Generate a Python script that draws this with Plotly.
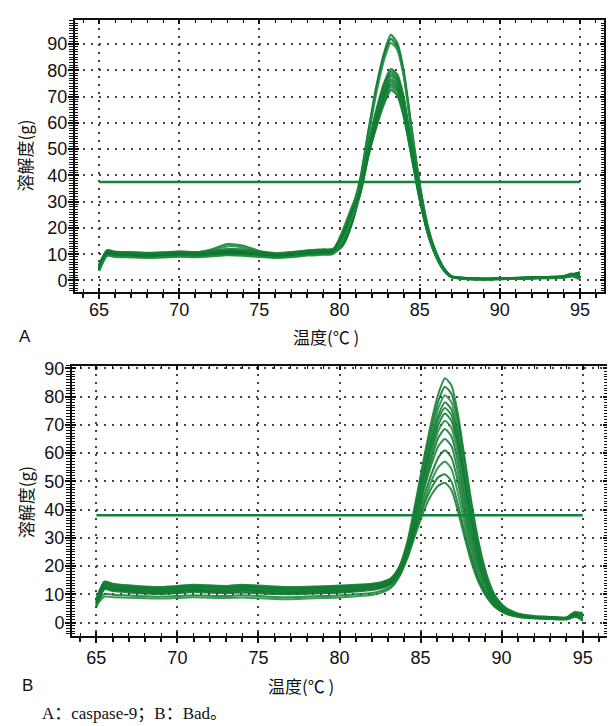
import plotly.graph_objects as go

# ---------------- data ----------------
TEMP_A = [65, 65.5, 66, 67, 68, 69, 70, 71, 72, 73, 74, 75, 76, 77, 78, 79, 79.6, 80.2, 80.8, 81.3,
          81.8, 82.3, 82.8, 83.2, 83.6, 84.0, 84.5, 85.0, 85.5, 86.0, 86.5, 87.0, 88, 89, 90, 91,
          92, 93, 94, 94.5, 95]

CURVES_A = [
    [5.2, 11.2, 10.6, 10.4, 10.0, 10.3, 10.8, 10.5, 11.8, 13.8, 13.2, 11.2, 9.8, 10.4, 11.2, 11.5, 11.8, 16, 27, 39, 57, 74, 87, 93.5, 90.5, 80, 58, 37, 20.5, 10.5, 4.5, 1.6, 0.9, 0.6, 0.8, 0.9, 1.1, 1.3, 1.6, 2.4, 2.8],
    [4.6, 10.8, 10.2, 10.0, 9.6, 9.9, 10.2, 10.0, 10.5, 11.0, 10.8, 10.2, 9.4, 9.9, 10.6, 11.0, 11.2, 14.5, 25, 38, 56, 73, 86, 92, 89, 79, 57, 36, 20, 10, 4.2, 1.4, 0.7, 0.5, 0.6, 0.8, 1.0, 1.1, 1.4, 2.0, 1.2],
    [5.8, 11.5, 10.9, 10.6, 10.3, 10.6, 11.0, 10.7, 11.5, 13.0, 12.6, 10.9, 10.0, 10.6, 11.4, 11.8, 12.0, 18, 28, 37.5, 55, 71.5, 84.5, 90.5, 88, 78, 56.5, 36, 21, 11, 4.8, 1.5, 0.8, 0.6, 0.7, 0.9, 1.2, 1.3, 1.7, 2.6, 0.6],
    [4.2, 10.2, 9.8, 9.6, 9.3, 9.5, 9.9, 9.6, 10.0, 10.4, 10.2, 9.7, 9.2, 9.6, 10.2, 10.6, 10.9, 14, 23, 35.5, 51.5, 65, 75.5, 80.5, 78.5, 70, 51.5, 34, 19.5, 10, 4.2, 1.5, 0.7, 0.5, 0.6, 0.7, 0.9, 1.0, 1.3, 1.8, 2.2],
    [5.0, 10.6, 10.3, 10.2, 10.0, 10.2, 10.5, 10.2, 10.6, 11.2, 11.0, 10.4, 9.8, 10.2, 10.8, 11.1, 11.3, 17, 26, 35.5, 51, 64, 74.5, 79.5, 77.5, 69, 51, 33.5, 19.8, 10.5, 4.5, 1.4, 0.8, 0.6, 0.7, 0.8, 1.0, 1.1, 1.4, 2.2, 3.0],
    [3.8, 9.6, 9.2, 9.0, 8.8, 9.0, 9.3, 9.0, 9.4, 9.8, 9.6, 9.2, 8.8, 9.1, 9.7, 10.0, 10.3, 13.2, 22, 34.5, 50, 63, 73.5, 78.5, 76.5, 68, 50, 33, 18.5, 9.5, 4.0, 1.4, 0.6, 0.4, 0.5, 0.6, 0.8, 0.9, 1.2, 1.6, 0.8],
    [5.5, 11.0, 10.6, 10.5, 10.3, 10.4, 10.7, 10.4, 10.9, 11.6, 11.4, 10.6, 10.0, 10.4, 11.0, 11.4, 11.6, 19, 28.5, 35, 50, 62.5, 72.5, 77.5, 75.5, 67, 49.5, 32.5, 19.5, 11, 4.8, 1.4, 0.8, 0.6, 0.8, 0.9, 1.1, 1.2, 1.5, 2.5, 1.8],
    [4.4, 10.0, 9.6, 9.5, 9.2, 9.4, 9.7, 9.5, 9.8, 10.2, 10.0, 9.5, 9.0, 9.4, 10.0, 10.3, 10.5, 14.5, 23.5, 34, 49, 61.5, 71.5, 76.5, 74.5, 66, 49, 32, 18.5, 9.8, 4.2, 1.3, 0.6, 0.5, 0.6, 0.7, 0.9, 1.0, 1.3, 1.9, 2.6],
    [6.0, 11.4, 10.9, 10.8, 10.5, 10.7, 11.0, 10.8, 11.2, 11.9, 11.8, 11.0, 10.4, 10.8, 11.4, 11.7, 11.9, 16.5, 26, 34.5, 49, 61, 70.5, 75.5, 73.5, 65, 48.5, 31.8, 19, 10.5, 4.5, 1.4, 0.9, 0.7, 0.8, 1.0, 1.2, 1.3, 1.6, 2.3, 1.0],
    [4.8, 10.4, 10.0, 9.9, 9.6, 9.8, 10.1, 9.9, 10.3, 10.8, 10.6, 10.0, 9.5, 9.8, 10.4, 10.7, 10.9, 13.8, 22.5, 33.5, 48, 60, 69.5, 74.5, 72.5, 64, 48, 31.5, 18, 9.5, 4.0, 1.3, 0.7, 0.5, 0.6, 0.8, 1.0, 1.1, 1.4, 2.0, 3.2],
    [3.6, 9.4, 9.0, 8.8, 8.6, 8.8, 9.1, 8.9, 9.2, 9.6, 9.4, 9.0, 8.6, 8.9, 9.5, 9.8, 10.1, 15, 24, 33, 47.5, 59, 68.5, 73.5, 71.5, 63.5, 47.5, 31, 18, 9.5, 4.0, 1.2, 0.5, 0.4, 0.5, 0.6, 0.8, 0.9, 1.1, 1.5, 0.3],
    [5.3, 10.9, 10.4, 10.3, 10.0, 10.2, 10.5, 10.3, 10.7, 11.3, 11.1, 10.5, 9.9, 10.3, 10.9, 11.2, 11.4, 18, 27, 33.5, 47.5, 58.5, 67.5, 72.5, 70.5, 62.5, 47, 30.8, 18.8, 10.8, 4.6, 1.3, 0.8, 0.6, 0.7, 0.9, 1.1, 1.2, 1.5, 2.2, 1.6],
]

TEMP_B = [65, 65.5, 66, 67, 68, 69, 70, 71, 72, 73, 74, 75, 76, 77, 78, 79, 80, 81, 82, 82.6, 83.2,
          83.7, 84.2, 84.7, 85.2, 85.7, 86.1, 86.5, 86.9, 87.3, 87.7, 88.1, 88.6, 89.1, 89.6, 90.2,
          91, 92, 93, 94, 94.5, 95]

CURVES_B = [
    [7.5, 14.0, 13.2, 12.6, 12.2, 12.0, 12.4, 12.8, 12.6, 12.4, 12.8, 12.5, 12.2, 12.0, 12.2, 12.4, 12.6, 13.0, 13.4, 14.0, 15.6, 20, 29, 43, 58, 72, 81, 86.5, 84, 74, 59, 44, 28, 16.5, 9.5, 5.5, 3.2, 2.3, 2.0, 1.8, 3.6, 2.5],
    [6.8, 13.2, 12.6, 12.0, 11.6, 11.4, 11.8, 12.2, 12.0, 11.8, 12.2, 11.9, 11.6, 11.4, 11.6, 11.8, 12.0, 12.4, 12.9, 13.5, 15.2, 19.5, 28, 41.5, 56, 69.5, 78.5, 83.5, 81, 71.5, 57, 42.5, 27, 16, 9.2, 5.2, 3.0, 2.1, 1.9, 1.7, 3.2, 1.2],
    [7.2, 13.6, 12.9, 12.3, 11.9, 11.7, 12.1, 12.5, 12.3, 12.1, 12.5, 12.2, 11.9, 11.7, 11.9, 12.1, 12.3, 12.7, 13.1, 13.8, 15.4, 19.6, 27.5, 40.5, 54.5, 67.5, 76, 80.5, 78, 69, 55, 41, 26, 15.5, 9.0, 5.2, 3.1, 2.2, 2.0, 1.8, 3.8, 3.2],
    [6.2, 12.6, 12.0, 11.5, 11.1, 10.9, 11.2, 11.6, 11.4, 11.2, 11.6, 11.3, 11.0, 10.8, 11.0, 11.2, 11.4, 11.8, 12.3, 12.9, 14.6, 18.8, 27, 39.5, 53, 65.5, 73.5, 78, 75.5, 66.5, 52.5, 39, 24.5, 14.5, 8.4, 4.8, 2.8, 2.0, 1.8, 1.6, 2.8, 0.8],
    [8.0, 14.4, 13.6, 13.0, 12.6, 12.4, 12.8, 13.2, 13.0, 12.8, 13.2, 12.9, 12.6, 12.4, 12.5, 12.7, 12.9, 13.2, 13.6, 14.2, 15.8, 19.6, 27, 39, 52, 64, 72, 76, 73.5, 64.5, 51, 37.5, 23.5, 14, 8.2, 4.8, 2.9, 2.1, 1.9, 1.7, 3.4, 2.0],
    [5.8, 12.2, 11.6, 11.1, 10.7, 10.5, 10.8, 11.2, 11.0, 10.8, 11.1, 10.8, 10.5, 10.4, 10.6, 10.8, 11.0, 11.4, 11.9, 12.6, 14.2, 18.2, 26, 38, 50.5, 62, 70, 74, 71.5, 62.5, 49, 36, 22.5, 13.5, 7.8, 4.5, 2.7, 1.9, 1.7, 1.5, 2.6, 1.0],
    [7.0, 13.4, 12.8, 12.2, 11.8, 11.6, 12.0, 12.4, 12.2, 12.0, 12.4, 12.1, 11.8, 11.6, 11.8, 12.0, 12.2, 12.6, 13.0, 13.6, 15.0, 18.8, 26, 37.5, 49.5, 60.5, 68, 71.5, 69, 60, 47, 34.5, 21.5, 13, 7.6, 4.5, 2.8, 2.0, 1.8, 1.6, 3.0, 2.4],
    [6.5, 12.8, 12.2, 11.7, 11.3, 11.1, 11.4, 11.8, 11.6, 11.4, 11.8, 11.5, 11.2, 11.0, 11.2, 11.4, 11.6, 12.0, 12.5, 13.1, 14.6, 18.4, 25.5, 36.5, 48, 58.5, 65.5, 68.5, 66, 57, 44.5, 32.5, 20.5, 12.5, 7.3, 4.3, 2.7, 1.9, 1.7, 1.5, 2.9, 1.6],
    [8.5, 14.5, 13.8, 13.2, 12.8, 12.6, 13.0, 13.4, 13.2, 13.0, 13.4, 13.1, 12.8, 12.6, 12.7, 12.9, 13.1, 13.4, 13.8, 14.3, 15.8, 19.2, 26, 36.5, 47, 56.5, 62.5, 65, 62.5, 53.5, 41.5, 30, 19, 11.8, 7.0, 4.2, 2.7, 2.0, 1.8, 1.6, 3.3, 2.8],
    [5.5, 11.8, 11.2, 10.7, 10.3, 10.1, 10.4, 10.8, 10.6, 10.4, 10.7, 10.4, 10.1, 10.0, 10.2, 10.4, 10.6, 11.0, 11.5, 12.2, 13.8, 17.6, 24.5, 34.5, 44.5, 53, 58.5, 61, 58.5, 50, 38.5, 27.5, 17.2, 10.6, 6.3, 3.8, 2.4, 1.7, 1.5, 1.3, 2.4, 0.6],
    [6.0, 9.2, 9.0, 8.8, 8.6, 8.5, 8.7, 9.0, 8.8, 8.7, 8.9, 8.6, 8.4, 8.3, 8.5, 8.7, 8.9, 9.3, 9.8, 10.6, 12.4, 16.4, 23.5, 33, 42.5, 50.5, 55, 57, 54.5, 46, 35.5, 25, 15.5, 9.5, 5.6, 3.4, 2.1, 1.5, 1.3, 1.1, 2.0, 1.3],
    [7.4, 13.8, 13.1, 12.5, 12.1, 11.9, 12.3, 12.7, 12.5, 12.3, 12.7, 12.4, 12.1, 11.9, 12.0, 12.2, 12.4, 12.8, 13.2, 13.8, 15.2, 18.6, 24.5, 33, 41.5, 48, 51.5, 52.5, 50, 42, 32.5, 23.5, 15, 9.5, 5.8, 3.6, 2.3, 1.7, 1.5, 1.4, 2.6, 3.6],
    [6.6, 10.2, 9.9, 9.6, 9.3, 9.2, 9.4, 9.7, 9.5, 9.4, 9.7, 9.4, 9.1, 9.0, 9.2, 9.4, 9.6, 10.0, 10.5, 11.3, 13.0, 16.6, 23, 31.5, 39.5, 45.5, 48.5, 49.5, 47, 39.5, 30.5, 22, 14, 8.8, 5.4, 3.3, 2.1, 1.5, 1.3, 1.2, 2.2, 1.8],
]

THRESH_X = [65, 95]
THRESH_A = 37.5
THRESH_B = 38.0

X_TICKS = [65, 70, 75, 80, 85, 90, 95]
Y_TICKS = [0, 10, 20, 30, 40, 50, 60, 70, 80, 90]

Y_TITLE = "溶解度(g)"
X_TITLE = "温度(℃ )"
CAPTION = "A：caspase-9；B：Bad。"

# ---------------- figure ----------------
# the page body has an 8px margin, so the figure is drawn 8px smaller and offset
OFF = 8
W, H = 615 - OFF, 726 - OFF
GREENS = ["rgba(20,128,52,0.88)", "rgba(12,116,46,0.88)", "rgba(32,142,64,0.88)",
          "rgba(16,122,50,0.88)"]
THRESH_COLOR = "#13823a"

def px(x):
    return (x - OFF) / W

def py(y):
    return 1 - (y - OFF) / H

fig = go.Figure()

for i, ys in enumerate(CURVES_A):
    fig.add_trace(go.Scatter(x=TEMP_A, y=ys, mode="lines",
                             line=dict(color=GREENS[i % 4], width=2.2, shape="spline", smoothing=0.6),
                             xaxis="x", yaxis="y", showlegend=False, hoverinfo="skip"))
fig.add_trace(go.Scatter(x=THRESH_X, y=[THRESH_A, THRESH_A], mode="lines", line=dict(color=THRESH_COLOR, width=2.6),
                         xaxis="x", yaxis="y", showlegend=False))

for i, ys in enumerate(CURVES_B):
    fig.add_trace(go.Scatter(x=TEMP_B, y=ys, mode="lines",
                             line=dict(color=GREENS[i % 4], width=2.0, shape="spline", smoothing=0.6),
                             xaxis="x2", yaxis="y2", showlegend=False, hoverinfo="skip"))
fig.add_trace(go.Scatter(x=THRESH_X, y=[THRESH_B, THRESH_B], mode="lines", line=dict(color=THRESH_COLOR, width=2.6),
                         xaxis="x2", yaxis="y2", showlegend=False))

# empty traces so that the tick-overlay axes are drawn
fig.add_trace(go.Scatter(x=[None], y=[None], xaxis="x3", yaxis="y3", showlegend=False, hoverinfo="skip"))
fig.add_trace(go.Scatter(x=[None], y=[None], xaxis="x4", yaxis="y4", showlegend=False, hoverinfo="skip"))

tickfont = dict(family="Liberation Sans, Arial, sans-serif", size=18, color="#111")
cjk = "Noto Sans CJK SC, sans-serif"

def xax(domain, anchor, standoff):
    return dict(domain=domain, anchor=anchor, range=[63.5, 96.5], tickvals=X_TICKS,
                showgrid=True, gridcolor="#444", gridwidth=1.5, griddash="2px,6px",
                showline=True, linecolor="#111", linewidth=2, mirror=True,
                ticks="outside", ticklen=5, tickwidth=2, tickcolor="#111",
                minor=dict(dtick=1, ticks="outside", ticklen=4, tickwidth=1.5, tickcolor="#111", showgrid=False),
                ticklabelstandoff=standoff,
                tickfont=tickfont, zeroline=False, fixedrange=True)

def yax(domain, anchor, rng):
    return dict(domain=domain, anchor=anchor, range=rng, tickvals=Y_TICKS,
                showgrid=True, gridcolor="#444", gridwidth=1.5, griddash="2px,6px",
                showline=True, linecolor="#111", linewidth=2, mirror=True,
                ticks="outside", ticklen=5, tickwidth=2, tickcolor="#111",
                minor=dict(dtick=1, ticks="outside", ticklen=4, tickwidth=1.2, tickcolor="#111", showgrid=False),
                ticklabelstandoff=-3,
                tickfont=tickfont, zeroline=False, fixedrange=True)

# overlay axes that add the inward half of the ticks (and the ticks on the top/right frame)
def xin(domain, anchor, over):
    return dict(domain=domain, anchor=anchor, overlaying=over, range=[63.5, 96.5], tickvals=X_TICKS,
                showgrid=False, showline=False, zeroline=False, showticklabels=False,
                ticks="inside", ticklen=4, tickwidth=2, tickcolor="#111", mirror="allticks",
                minor=dict(dtick=1, ticks="inside", ticklen=3, tickwidth=1.3, tickcolor="#111", showgrid=False),
                fixedrange=True)

def yin(domain, anchor, over, rng):
    return dict(domain=domain, anchor=anchor, overlaying=over, range=rng, tickvals=Y_TICKS,
                showgrid=False, showline=False, zeroline=False, showticklabels=False,
                ticks="inside", ticklen=4, tickwidth=2, tickcolor="#111", mirror="allticks",
                minor=dict(dtick=1, ticks="inside", ticklen=3, tickwidth=1.1, tickcolor="#111", showgrid=False),
                fixedrange=True)

RANGE_A = [-4.5, 99.2]
RANGE_B = [-4.7, 91]
XD_A, YD_A = [px(75), px(604)], [py(288), py(13)]
XD_B, YD_B = [px(72), px(607)], [py(635), py(362)]

fig.update_layout(
    width=W, height=H, margin=dict(l=0, r=0, t=0, b=0),
    paper_bgcolor="white", plot_bgcolor="white",
    xaxis=xax(XD_A, "y", -5),
    yaxis=yax(YD_A, "x", RANGE_A),
    xaxis2=xax(XD_B, "y2", 0),
    yaxis2=yax(YD_B, "x2", RANGE_B),
    xaxis3=xin(XD_A, "y3", "x"),
    yaxis3=yin(YD_A, "x3", "y", RANGE_A),
    xaxis4=xin(XD_B, "y4", "x2"),
    yaxis4=yin(YD_B, "x4", "y2", RANGE_B),
)

def ann(text, x, y, size=17, family=cjk, angle=0, xanchor="center"):
    fig.add_annotation(text=text, x=px(x), y=py(y), xref="paper", yref="paper",
                       showarrow=False, textangle=angle, xanchor=xanchor, yanchor="middle",
                       font=dict(family=family, size=size, color="#111"))

ann(Y_TITLE, 25, 150, angle=-90)
ann(X_TITLE, 326, 333)
ann("A", 25, 333, size=17, family="Liberation Sans, Arial, sans-serif")
ann(Y_TITLE, 25, 500, angle=-90)
ann(X_TITLE, 301, 685)
ann("B", 27, 685, size=17, family="Liberation Sans, Arial, sans-serif")
ann(CAPTION, 40, 713, size=17, family="Liberation Serif, Noto Sans CJK SC, serif", xanchor="left")

fig.write_html("out.html")
